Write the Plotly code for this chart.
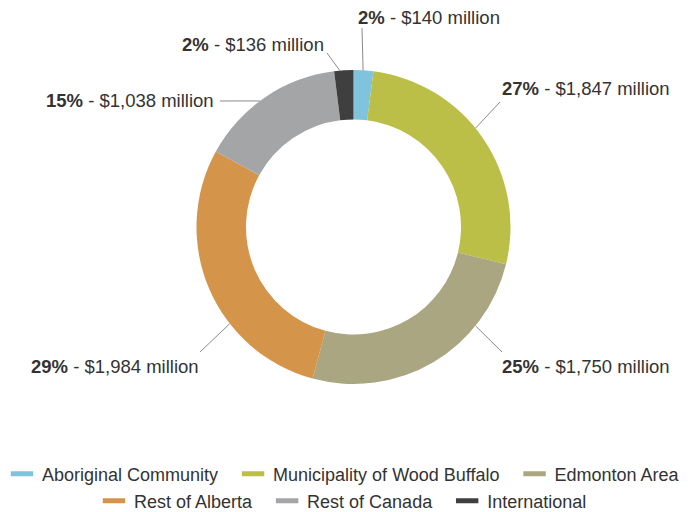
import math
import plotly.graph_objects as go

# ---- data ----
categories = ["Aboriginal Community", "Municipality of Wood Buffalo", "Edmonton Area",
              "Rest of Alberta", "Rest of Canada", "International"]
values = [140, 1847, 1750, 1984, 1038, 136]          # $ million
percent_labels = ["2%", "27%", "25%", "29%", "15%", "2%"]
colors = ["#7fc3dc", "#bbbf47", "#aaa681", "#d4944a", "#a4a5a7", "#3f3f3f"]
legend_rows = [[0, 1, 2], [3, 4, 5]]

# ---- layout / style ----
W, H = 696, 512
CX, CY, R = 353.5, 227, 157          # donut centre / outer radius in px
HOLE = 0.685
# per slice: angle (deg, clockwise from top) where leader line leaves the ring,
# leader outer end (px) and label text anchor (px, left edge / middle)
leader_angle = [3.5, 51, 129, 232, 323.4, 355]
leader_end = [(362, 28), (500, 102), (502, 352), (200, 352), (220, 101), (327, 53)]
label_pos = [(356, 17, "left"), (500, 88, "left"), (500, 366, "left"),
             (201, 366, "right"), (216, 100, "right"), (326, 44, "right")]

FONT = "Liberation Sans, Arial, Helvetica, sans-serif"
PAD = "\u00a0\u00a0"   # extra spacing after legend entries


def px(x):
    return x / W


def py(y):
    return 1 - y / H


fig = go.Figure()
fig.add_trace(go.Pie(
    labels=categories, values=values, hole=HOLE, sort=False,
    direction="clockwise", rotation=0,
    marker=dict(colors=colors, line=dict(width=0)),
    textinfo="none", showlegend=False,
    domain=dict(x=[px(CX - R), px(CX + R)], y=[py(CY + R), py(CY - R)]),
))

# legend via dummy traces (bar-shaped swatches)
for row_i, row in enumerate(legend_rows):
    for i in row:
        fig.add_trace(go.Scatter(
            x=[None], y=[None], mode="markers", name=categories[i] + PAD,
            marker=dict(symbol="line-ew", size=18, color=colors[i],
                        line=dict(width=7, color=colors[i])),
            legend="legend" if row_i == 0 else "legend2",
        ))

shapes = []
annotations = []
for i in range(len(values)):
    a = math.radians(leader_angle[i])
    sx = CX + R * math.sin(a)
    sy = CY - R * math.cos(a)
    ex, ey = leader_end[i]
    shapes.append(dict(type="line", xref="paper", yref="paper",
                       x0=px(sx), y0=py(sy), x1=px(ex), y1=py(ey),
                       line=dict(color="#8a8a8a", width=1)))
    lx, ly, anchor = label_pos[i]
    annotations.append(dict(
        x=px(lx), y=py(ly), xref="paper", yref="paper",
        xanchor=anchor, yanchor="middle", showarrow=False,
        text=f"<b>{percent_labels[i]}</b> - ${values[i]:,} million",
        font=dict(family=FONT, size=18.5, color="#333333"),
    ))

legend_common = dict(orientation="h", xanchor="center", x=0.5, yanchor="middle",
                     font=dict(family=FONT, size=18, color="#333333"),
                     bgcolor="rgba(0,0,0,0)", itemclick=False, itemdoubleclick=False,
                     tracegroupgap=0)
fig.update_layout(
    width=W, height=H,
    margin=dict(l=0, r=0, t=0, b=0, autoexpand=False),
    paper_bgcolor="white", plot_bgcolor="white",
    xaxis=dict(visible=False), yaxis=dict(visible=False),
    shapes=shapes, annotations=annotations,
    legend=dict(y=py(474), **legend_common),
    legend2=dict(y=py(501), **legend_common),
)

fig.write_html("out.html", config={"displayModeBar": False},
               post_script="document.body.style.margin='0';document.body.style.overflow='hidden';")
